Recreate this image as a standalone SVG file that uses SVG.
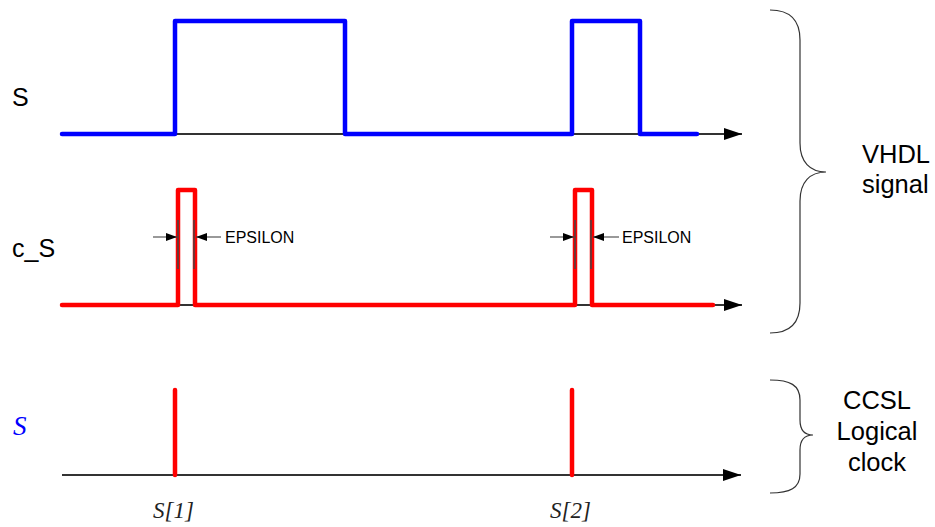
<svg xmlns="http://www.w3.org/2000/svg" width="935" height="527" viewBox="0 0 935 527">
<defs>
<marker id="ah" markerWidth="18" markerHeight="12" refX="18" refY="6" orient="auto" markerUnits="userSpaceOnUse"><path d="M0,0 L18,6 L0,12 z" fill="#000"/></marker>
<marker id="sa" markerWidth="11" markerHeight="8" refX="11" refY="4" orient="auto" markerUnits="userSpaceOnUse"><path d="M0,0 L11,4 L0,8 z" fill="#000"/></marker>
<style>
.axis{stroke:#333;stroke-width:2;fill:none}
.blue{stroke:#0000ff;stroke-width:4.5;fill:none;stroke-linejoin:round;stroke-linecap:round}
.red{stroke:#ff0000;stroke-width:4.5;fill:none;stroke-linejoin:round;stroke-linecap:round}
.thin{stroke:#444;stroke-width:1.5}
.eps{stroke:#555;stroke-width:1.2;fill:none}
.brace{stroke:#333;stroke-width:1.2;fill:none}
.sans{font-family:"Liberation Sans",Arial,sans-serif;fill:#000}
.ital{font-family:"Liberation Serif","Times New Roman",serif;font-style:italic}
</style>
</defs>
<g id="connectors">
<line class="axis" x1="62" y1="134" x2="742" y2="134" marker-end="url(#ah)"/>
<line class="axis" x1="62" y1="305" x2="742" y2="305" marker-end="url(#ah)"/>
<line class="axis" x1="62" y1="475" x2="741" y2="475" marker-end="url(#ah)"/>
</g>
<g id="signal-S">
<path class="blue" d="M62,134 H175 V21 H345 V134 H572 V21 H640 V134 H697"/>
<text class="sans" x="12" y="106" font-size="25">S</text>
</g>
<g id="signal-cS">
<path class="red" d="M62,305 H178 V190 H195 V305 H575 V190 H592 V305 H713"/>
<line class="thin" x1="178" y1="220" x2="178" y2="269"/>
<line class="thin" x1="194" y1="220" x2="194" y2="269"/>
<line class="thin" x1="575" y1="220" x2="575" y2="269"/>
<line class="thin" x1="591" y1="220" x2="591" y2="269"/>
<line class="eps" x1="153" y1="237" x2="177" y2="237" marker-end="url(#sa)"/>
<line class="eps" x1="221" y1="237" x2="196" y2="237" marker-end="url(#sa)"/>
<line class="eps" x1="550" y1="237" x2="574" y2="237" marker-end="url(#sa)"/>
<line class="eps" x1="619" y1="237" x2="593" y2="237" marker-end="url(#sa)"/>
<text class="sans" x="225" y="243" font-size="16">EPSILON</text>
<text class="sans" x="622" y="243" font-size="16">EPSILON</text>
<text class="sans" x="12" y="257" font-size="25">c_S</text>
</g>
<g id="clock-S">
<line class="red" x1="175" y1="390" x2="175" y2="475"/>
<line class="red" x1="572" y1="390" x2="572" y2="475"/>
<text class="ital" x="13" y="435" font-size="27" fill="#0000ff">S</text>
<text class="ital" x="153" y="518" font-size="23" fill="#222">S[1]</text>
<text class="ital" x="550" y="518" font-size="23" fill="#222">S[2]</text>
</g>
<g id="brace-vhdl">
<path class="brace" d="M770,10 C790,10 800,20 800,40 V143 C800,162 810,172 826,172 C810,172 800,182 800,201 V303 C800,323 790,333 770,333"/>
<text class="sans" x="862" y="163" font-size="25.5">VHDL</text>
<text class="sans" x="862" y="193" font-size="25.5">signal</text>
</g>
<g id="brace-ccsl">
<path class="brace" d="M770,380 C790,380 800,385 800,400 V420 C800,430 805,435 813,435 C805,435 800,440 800,450 V474 C800,488 790,493 770,493"/>
<text class="sans" x="877" y="409" font-size="25.5" text-anchor="middle">CCSL</text>
<text class="sans" x="877" y="440" font-size="25.5" text-anchor="middle">Logical</text>
<text class="sans" x="877" y="471" font-size="25.5" text-anchor="middle">clock</text>
</g>
</svg>
